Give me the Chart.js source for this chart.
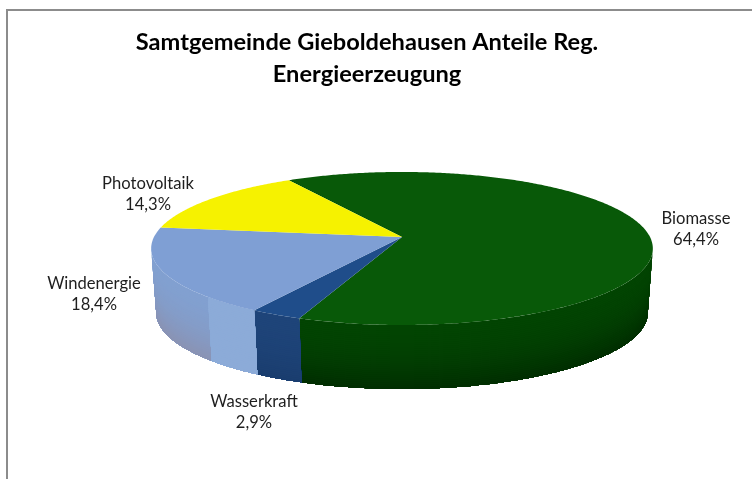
<!DOCTYPE html>
<html>
<head>
<meta charset="utf-8">
<title>Samtgemeinde Gieboldehausen</title>
<script src="https://cdn.jsdelivr.net/npm/chart.js@4"></script>
<style>
  html, body { margin: 0; padding: 0; background: #fff; overflow: hidden; }
  #wrap { position: relative; width: 752px; height: 479px; }
  #frame { position: absolute; left: 6px; top: 9px; right: 0; bottom: 0;
           border-left: 2px solid #8c8c8c; border-top: 2px solid #8c8c8c; }
  canvas { position: absolute; left: 0; top: 0; }
</style>
</head>
<body>
<div id="wrap">
  <div id="frame"></div>
  <canvas id="chartPie" width="752" height="479"></canvas>
</div>
<script>
const categories = ['Biomasse', 'Wasserkraft', 'Windenergie', 'Photovoltaik'];
const shares = [64.4, 2.9, 18.4, 14.3];
const shareLabels = ['64,4%', '2,9%', '18,4%', '14,3%'];
const titleLines = ['Samtgemeinde Gieboldehausen Anteile Reg.', 'Energieerzeugung'];

const topColors = ['#085908', '#1f4d8a', '#7f9fd4', '#f6f200'];
const sideTopColors = ['#024402', '#1e4479', '#82a0d0', '#f6f200'];
const sideBottomColors = ['#012d01', '#1a3d6e', '#8a92b2', '#f6f200'];

// lighter stripe on the wall of the blue slice, next to the navy one
const stripeShare = [0, 0, 0.26, 0];
const stripeColors = ['#085908', '#1f4d8a', '#8cabd8', '#f6f200'];

// where the labels sit, centre of the text block
const labelSpots = [[696, 229], [254, 412], [94, 294], [148, 194]];

// tilted disc, maps the pie's angles onto the page
const disc = { cx: 402, cy: 237, rx: 248, ry: 74.8, persp: 0.15, depth: 64, baseScale: 0.98 };

function project(angle) {
  const u = Math.cos(angle), v = Math.sin(angle);
  const s = 1 / (1 - disc.persp * v);
  return [disc.cx + disc.rx * u * s, disc.cy + disc.ry * v * s];
}

// same edge, moved down the side wall by t (0..1)
function wallPoint(angle, t) {
  const p = project(angle);
  const k = 1 - (1 - disc.baseScale) * t;
  return [disc.cx + (p[0] - disc.cx) * k, p[1] + disc.depth * t];
}

function mix(a, b, t) {
  const pa = parseInt(a.slice(1), 16), pb = parseInt(b.slice(1), 16);
  const ch = sh => Math.round(((pa >> sh) & 255) * (1 - t) + ((pb >> sh) & 255) * t);
  return `rgb(${ch(16)},${ch(8)},${ch(0)})`;
}

function paintWall(ctx, from, to, colorA, colorB) {
  const layers = 32;
  // each layer runs to the floor of the wall, so no seams show between them
  for (let l = 0; l < layers; l++) {
    const t0 = l / layers;
    ctx.beginPath();
    for (let a = from; a < to; a += 0.01) ctx.lineTo(...wallPoint(a, t0));
    ctx.lineTo(...wallPoint(to, t0));
    ctx.lineTo(...wallPoint(to, 1));
    for (let a = to; a > from; a -= 0.01) ctx.lineTo(...wallPoint(a, 1));
    ctx.lineTo(...wallPoint(from, 1));
    ctx.closePath();
    ctx.fillStyle = mix(colorA, colorB, t0 * t0);
    ctx.fill();
  }
}

const pie3d = {
  id: 'pie3d',
  // the library works out the angles, this plugin only paints them tilted
  beforeDatasetDraw(chart, args) {
    const ctx = chart.ctx;
    const arcs = args.meta.data;
    const limit = Math.asin(disc.persp);

    // side walls
    arcs.forEach((arc, i) => {
      const from = Math.max(arc.startAngle, limit);
      const to = Math.min(arc.endAngle, Math.PI - limit);
      if (to <= from) return;
      paintWall(ctx, from, to, sideTopColors[i], sideBottomColors[i]);
      if (stripeShare[i] > 0) {
        paintWall(ctx, from, from + (to - from) * stripeShare[i], stripeColors[i], stripeColors[i]);
      }
    });

    // top face
    arcs.forEach((arc, i) => {
      ctx.beginPath();
      ctx.moveTo(disc.cx, disc.cy);
      for (let a = arc.startAngle; a < arc.endAngle; a += 0.01) ctx.lineTo(...project(a));
      ctx.lineTo(...project(arc.endAngle));
      ctx.closePath();
      ctx.fillStyle = topColors[i];
      ctx.fill();
    });
    return false;
  },
  afterDatasetsDraw(chart) {
    const ctx = chart.ctx;
    ctx.save();
    ctx.fillStyle = '#1e1e1e';
    ctx.font = '16.6px Lato';
    ctx.textAlign = 'center';
    ctx.textBaseline = 'middle';
    categories.forEach((name, i) => {
      const [x, y] = labelSpots[i];
      ctx.fillText(name, x, y - 10.5);
      ctx.fillText(shareLabels[i], x, y + 10.5);
    });
    ctx.restore();
  }
};

new Chart(document.getElementById('chartPie'), {
  type: 'pie',
  data: {
    labels: categories,
    datasets: [{ data: shares, backgroundColor: topColors, borderWidth: 0 }]
  },
  options: {
    responsive: false,
    animation: false,
    rotation: -31,
    layout: { padding: { right: 18 } },
    plugins: {
      legend: { display: false },
      tooltip: { enabled: false },
      title: {
        display: true,
        text: titleLines,
        color: '#000',
        font: { family: 'Lato', size: 23.6, weight: 'bold', lineHeight: 1.33 },
        padding: { top: 27, bottom: 10 }
      }
    }
  },
  plugins: [pie3d]
});
</script>
</body>
</html>
